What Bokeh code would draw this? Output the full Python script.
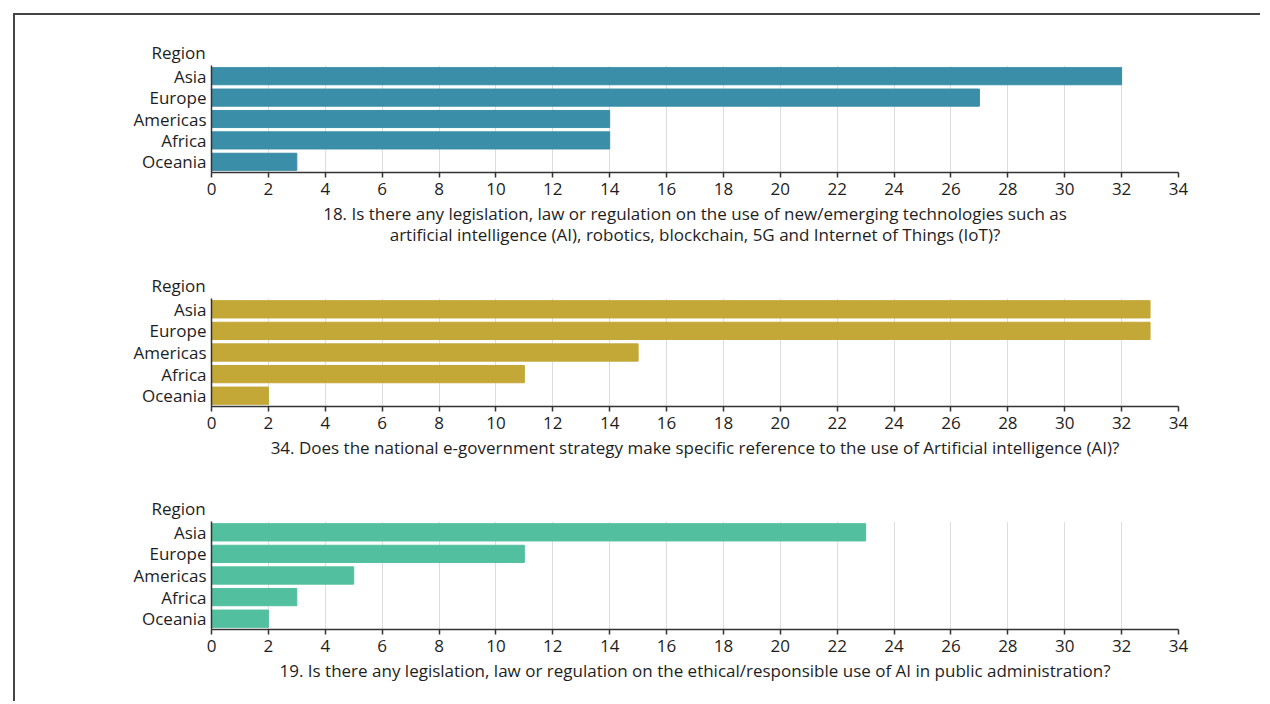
from bokeh.plotting import figure
from bokeh.layouts import column
from bokeh.models import Range1d, FactorRange, FixedTicker, Title
from bokeh.embed import file_html
from bokeh.resources import INLINE

regions = ["Asia", "Europe", "Americas", "Africa", "Oceania"]
q18_values = [32, 27, 14, 14, 3]
q34_values = [33, 33, 15, 11, 2]
q19_values = [23, 11, 5, 3, 2]
ticks = list(range(0, 36, 2))

q18_title = ("18. Is there any legislation, law or regulation on the use of new/emerging technologies such as\n"
             "artificial intelligence (AI), robotics, blockchain, 5G and Internet of Things (IoT)?")
q34_title = "34. Does the national e-government strategy make specific reference to the use of Artificial intelligence (AI)?"
q19_title = "19. Is there any legislation, law or regulation on the ethical/responsible use of AI in public administration?"

FONT = "Open Sans"
FS = "17px"
TXT = "#1e1e1e"


def make_plot(values, color, title, top, bottom, frame_h):
    p = figure(width=1245, height=top + frame_h + bottom,
               y_range=FactorRange(*regions[::-1], range_padding=0),
               x_range=Range1d(0, 34),
               output_backend="svg", toolbar_location=None,
               min_border_left=196, min_border_right=82,
               min_border_top=top, min_border_bottom=bottom)
    p.hbar(y=regions, right=values, height=0.8, left=0, color=color)
    p.outline_line_color = None
    p.ygrid.grid_line_color = None
    p.xgrid.grid_line_color = "#dddddd"
    p.xgrid.grid_line_width = 1
    p.xaxis.ticker = FixedTicker(ticks=ticks)
    p.xaxis.minor_tick_line_color = None
    p.xaxis.major_tick_in = 0
    p.xaxis.major_tick_out = 5
    for ax in (p.xaxis, p.yaxis):
        ax.axis_line_color = "#333333"
        ax.axis_line_width = 1.5
        ax.major_tick_line_color = "#333333"
        ax.major_tick_line_width = 1.5
        ax.major_label_text_font = FONT
        ax.major_label_text_font_size = FS
        ax.major_label_text_color = TXT
        ax.axis_label_text_font = FONT
        ax.axis_label_text_font_size = FS
        ax.axis_label_text_color = TXT
        ax.axis_label_text_font_style = "normal"
    p.yaxis.major_tick_out = 0
    p.yaxis.major_tick_in = 0
    p.yaxis.major_label_standoff = 5
    p.xaxis.major_label_standoff = 5
    p.xaxis.axis_label = title
    p.xaxis.axis_label_standoff = 4
    p.xaxis.axis_label_text_line_height = 0.95
    p.add_layout(Title(text="Region", align="left", offset=-60, standoff=3,
                       text_font=FONT, text_font_size=FS, text_color=TXT,
                       text_font_style="normal"), "above")
    return p


p1 = make_plot(q18_values, "#3a8ea7", q18_title, 50, 88, 107)
p2 = make_plot(q34_values, "#c3a737", q34_title, 38, 77, 108)
p3 = make_plot(q19_values, "#52c09f", q19_title, 38, 72, 108)

layout = column(p1, p2, p3, margin=(13, 0, 0, 13),
                styles={"border-left": "2px solid #444444", "border-top": "2px solid #444444"})

open("out.html", "w").write(file_html(layout, INLINE))
